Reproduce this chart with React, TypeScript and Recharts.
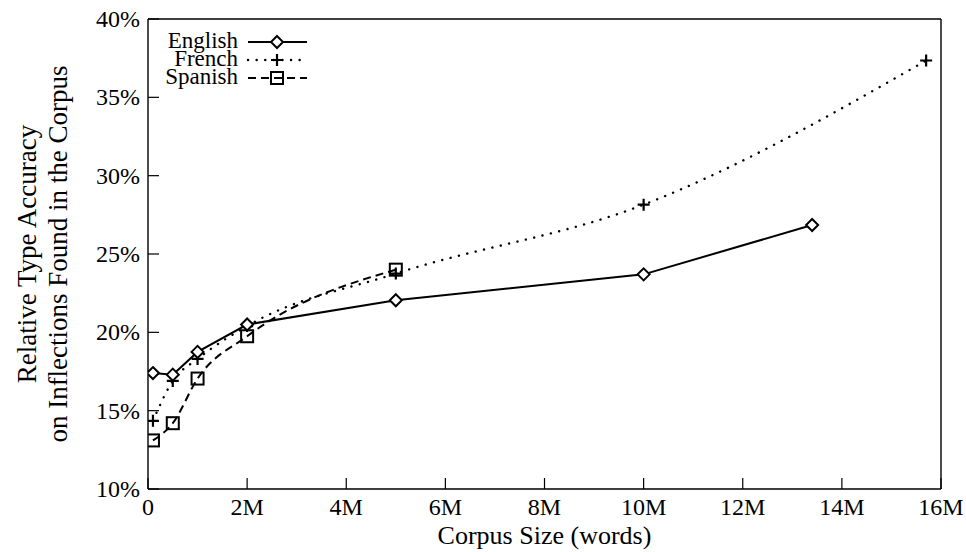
import React from "react";
import { LineChart, Line, XAxis, YAxis, Label } from "recharts";

// corpus size in millions of words, accuracy in %
const englishSize = [0.1, 0.5, 1, 2, 5, 10, 13.4];
const englishAcc = [17.4, 17.3, 18.75, 20.5, 22.05, 23.7, 26.85];

const frenchSize = [0.1, 0.5, 1, 2, 5, 10, 15.7];
const frenchAcc = [14.35, 16.9, 18.3, 20.4, 23.75, 28.15, 37.35];

const spanishSize = [0.1, 0.5, 1, 2, 5];
const spanishAcc = [13.1, 14.2, 17.05, 19.75, 24.0];

const xTicks = [0, 2, 4, 6, 8, 10, 12, 14, 16];
const yTicks = [10, 15, 20, 25, 30, 35, 40];

const seriesNames = ["English", "French", "Spanish"];

const toRows = (xs: number[], ys: number[]) =>
  xs.map((x, i) => ({ size: x, acc: ys[i] }));

const english = toRows(englishSize, englishAcc);
const french = toRows(frenchSize, frenchAcc);
const spanish = toRows(spanishSize, spanishAcc);

const W = 966;
const H = 552;
const LEFT = 148;
const RIGHT = 941;
const TOP = 19;
const BOTTOM = 489;
const TICK = 11;
const FONT = '"Liberation Serif", "DejaVu Serif", serif';
const INK = "#000";

function Diamond({ cx, cy }: { cx: number; cy: number }) {
  const r = 6;
  return (
    <path
      d={`M${cx},${cy - r} L${cx + r},${cy} L${cx},${cy + r} L${cx - r},${cy} Z`}
      fill="#fff"
      stroke={INK}
      strokeWidth={2}
    />
  );
}

function Plus({ cx, cy }: { cx: number; cy: number }) {
  const r = 6;
  return (
    <path
      d={`M${cx - r},${cy} L${cx + r},${cy} M${cx},${cy - r} L${cx},${cy + r}`}
      stroke={INK}
      strokeWidth={2.2}
      fill="none"
    />
  );
}

function Square({ cx, cy }: { cx: number; cy: number }) {
  const r = 6;
  return (
    <rect
      x={cx - r}
      y={cy - r}
      width={2 * r}
      height={2 * r}
      fill="none"
      stroke={INK}
      strokeWidth={2}
    />
  );
}

const markers = [Diamond, Plus, Square];
const dashes = [undefined, "0.1 8.5", "8 5"];

function makeDot(Marker: typeof Diamond) {
  return (props: any) => {
    if (props.cx == null || props.cy == null) return <g key={props.index} />;
    return (
      <g key={`d-${props.index}`}>
        <Marker cx={props.cx} cy={props.cy} />
      </g>
    );
  };
}

function BottomTick(props: any) {
  const { x, payload } = props;
  return (
    <g>
      <line x1={x} x2={x} y1={BOTTOM} y2={BOTTOM - TICK} stroke={INK} strokeWidth={1.2} />
      <text
        x={x}
        y={BOTTOM + 26}
        textAnchor="middle"
        fontFamily={FONT}
        fontSize={24}
        fill={INK}
      >
        {payload.value === 0 ? "0" : `${payload.value}M`}
      </text>
    </g>
  );
}

function TopTick(props: any) {
  const { x } = props;
  return <line x1={x} x2={x} y1={TOP} y2={TOP + TICK} stroke={INK} strokeWidth={1.2} />;
}

function LeftTick(props: any) {
  const { y, payload } = props;
  return (
    <g>
      <line x1={LEFT} x2={LEFT + TICK} y1={y} y2={y} stroke={INK} strokeWidth={1.2} />
      <text
        x={LEFT - 8}
        y={y + 8}
        textAnchor="end"
        fontFamily={FONT}
        fontSize={24}
        fill={INK}
      >
        {`${payload.value}%`}
      </text>
    </g>
  );
}

function RightTick(props: any) {
  const { y } = props;
  return <line x1={RIGHT} x2={RIGHT - TICK} y1={y} y2={y} stroke={INK} strokeWidth={1.2} />;
}

function YTitle() {
  const cy = (TOP + BOTTOM) / 2;
  return (
    <g fontFamily={FONT} fontSize={27} fill={INK}>
      <text
        x={27}
        y={cy}
        transform={`rotate(-90 27 ${cy})`}
        textAnchor="middle"
        dominantBaseline="central"
      >
        Relative Type Accuracy
      </text>
      <text
        x={58}
        y={cy}
        transform={`rotate(-90 58 ${cy})`}
        textAnchor="middle"
        dominantBaseline="central"
      >
        on Inflections Found in the Corpus
      </text>
    </g>
  );
}

function KeyBox() {
  const rows = [42, 60, 78];
  return (
    <svg
      width={330}
      height={95}
      style={{ position: "absolute", left: 0, top: 0, overflow: "visible" }}
    >
      {seriesNames.map((name, i) => {
        const Marker = markers[i];
        return (
          <g key={name}>
            <text
              x={238}
              y={rows[i] + 6}
              textAnchor="end"
              fontFamily={FONT}
              fontSize={23}
              fill={INK}
            >
              {name}
            </text>
            <line
              x1={248}
              x2={307}
              y1={rows[i]}
              y2={rows[i]}
              stroke={INK}
              strokeWidth={i === 1 ? 2.4 : 2}
              strokeDasharray={dashes[i]}
              strokeLinecap={i === 1 ? "round" : "butt"}
            />
            <Marker cx={277} cy={rows[i]} />
          </g>
        );
      })}
    </svg>
  );
}

export default function App() {
  return (
    <div style={{ position: "absolute", left: 0, top: 0, width: W, height: H, background: "#fff" }}>
      <LineChart
        width={W}
        height={H}
        margin={{ top: 18, right: 24, bottom: 0, left: 0 }}
      >
        <XAxis
          xAxisId="bottom"
          dataKey="size"
          type="number"
          domain={[0, 16]}
          ticks={xTicks}
          allowDataOverflow
          height={63}
          tickSize={0}
          tickMargin={0}
          tickLine={false}
          axisLine={{ stroke: INK, strokeWidth: 1.4 }}
          tick={<BottomTick />}
        >
          <Label
            value="Corpus Size (words)"
            position="insideBottom"
            offset={8}
            style={{ fontFamily: FONT, fontSize: 26, fill: INK }}
          />
        </XAxis>
        <XAxis
          xAxisId="top"
          orientation="top"
          dataKey="size"
          type="number"
          domain={[0, 16]}
          ticks={xTicks}
          height={1}
          tickSize={0}
          tickLine={false}
          axisLine={{ stroke: INK, strokeWidth: 1.4 }}
          tick={<TopTick />}
        />
        <YAxis
          yAxisId="left"
          type="number"
          domain={[10, 40]}
          ticks={yTicks}
          width={LEFT}
          tickSize={0}
          tickLine={false}
          axisLine={{ stroke: INK, strokeWidth: 1.4 }}
          tick={<LeftTick />}
        >
          <Label content={<YTitle />} />
        </YAxis>
        <YAxis
          yAxisId="right"
          orientation="right"
          type="number"
          domain={[10, 40]}
          ticks={yTicks}
          width={1}
          tickSize={0}
          tickLine={false}
          axisLine={{ stroke: INK, strokeWidth: 1.4 }}
          tick={<RightTick />}
        />
        <Line
          xAxisId="bottom"
          yAxisId="left"
          data={spanish}
          dataKey="acc"
          name="Spanish"
          type="monotone"
          stroke={INK}
          strokeWidth={2}
          strokeDasharray="8 5"
          dot={makeDot(Square)}
          activeDot={false}
          isAnimationActive={false}
        />
        <Line
          xAxisId="bottom"
          yAxisId="left"
          data={french}
          dataKey="acc"
          name="French"
          type="monotone"
          stroke={INK}
          strokeWidth={2.4}
          strokeLinecap="round"
          strokeDasharray="0.1 8.5"
          dot={makeDot(Plus)}
          activeDot={false}
          isAnimationActive={false}
        />
        <Line
          xAxisId="bottom"
          yAxisId="left"
          data={english}
          dataKey="acc"
          name="English"
          type="linear"
          stroke={INK}
          strokeWidth={2}
          dot={makeDot(Diamond)}
          activeDot={false}
          isAnimationActive={false}
        />
      </LineChart>
      <KeyBox />
    </div>
  );
}
